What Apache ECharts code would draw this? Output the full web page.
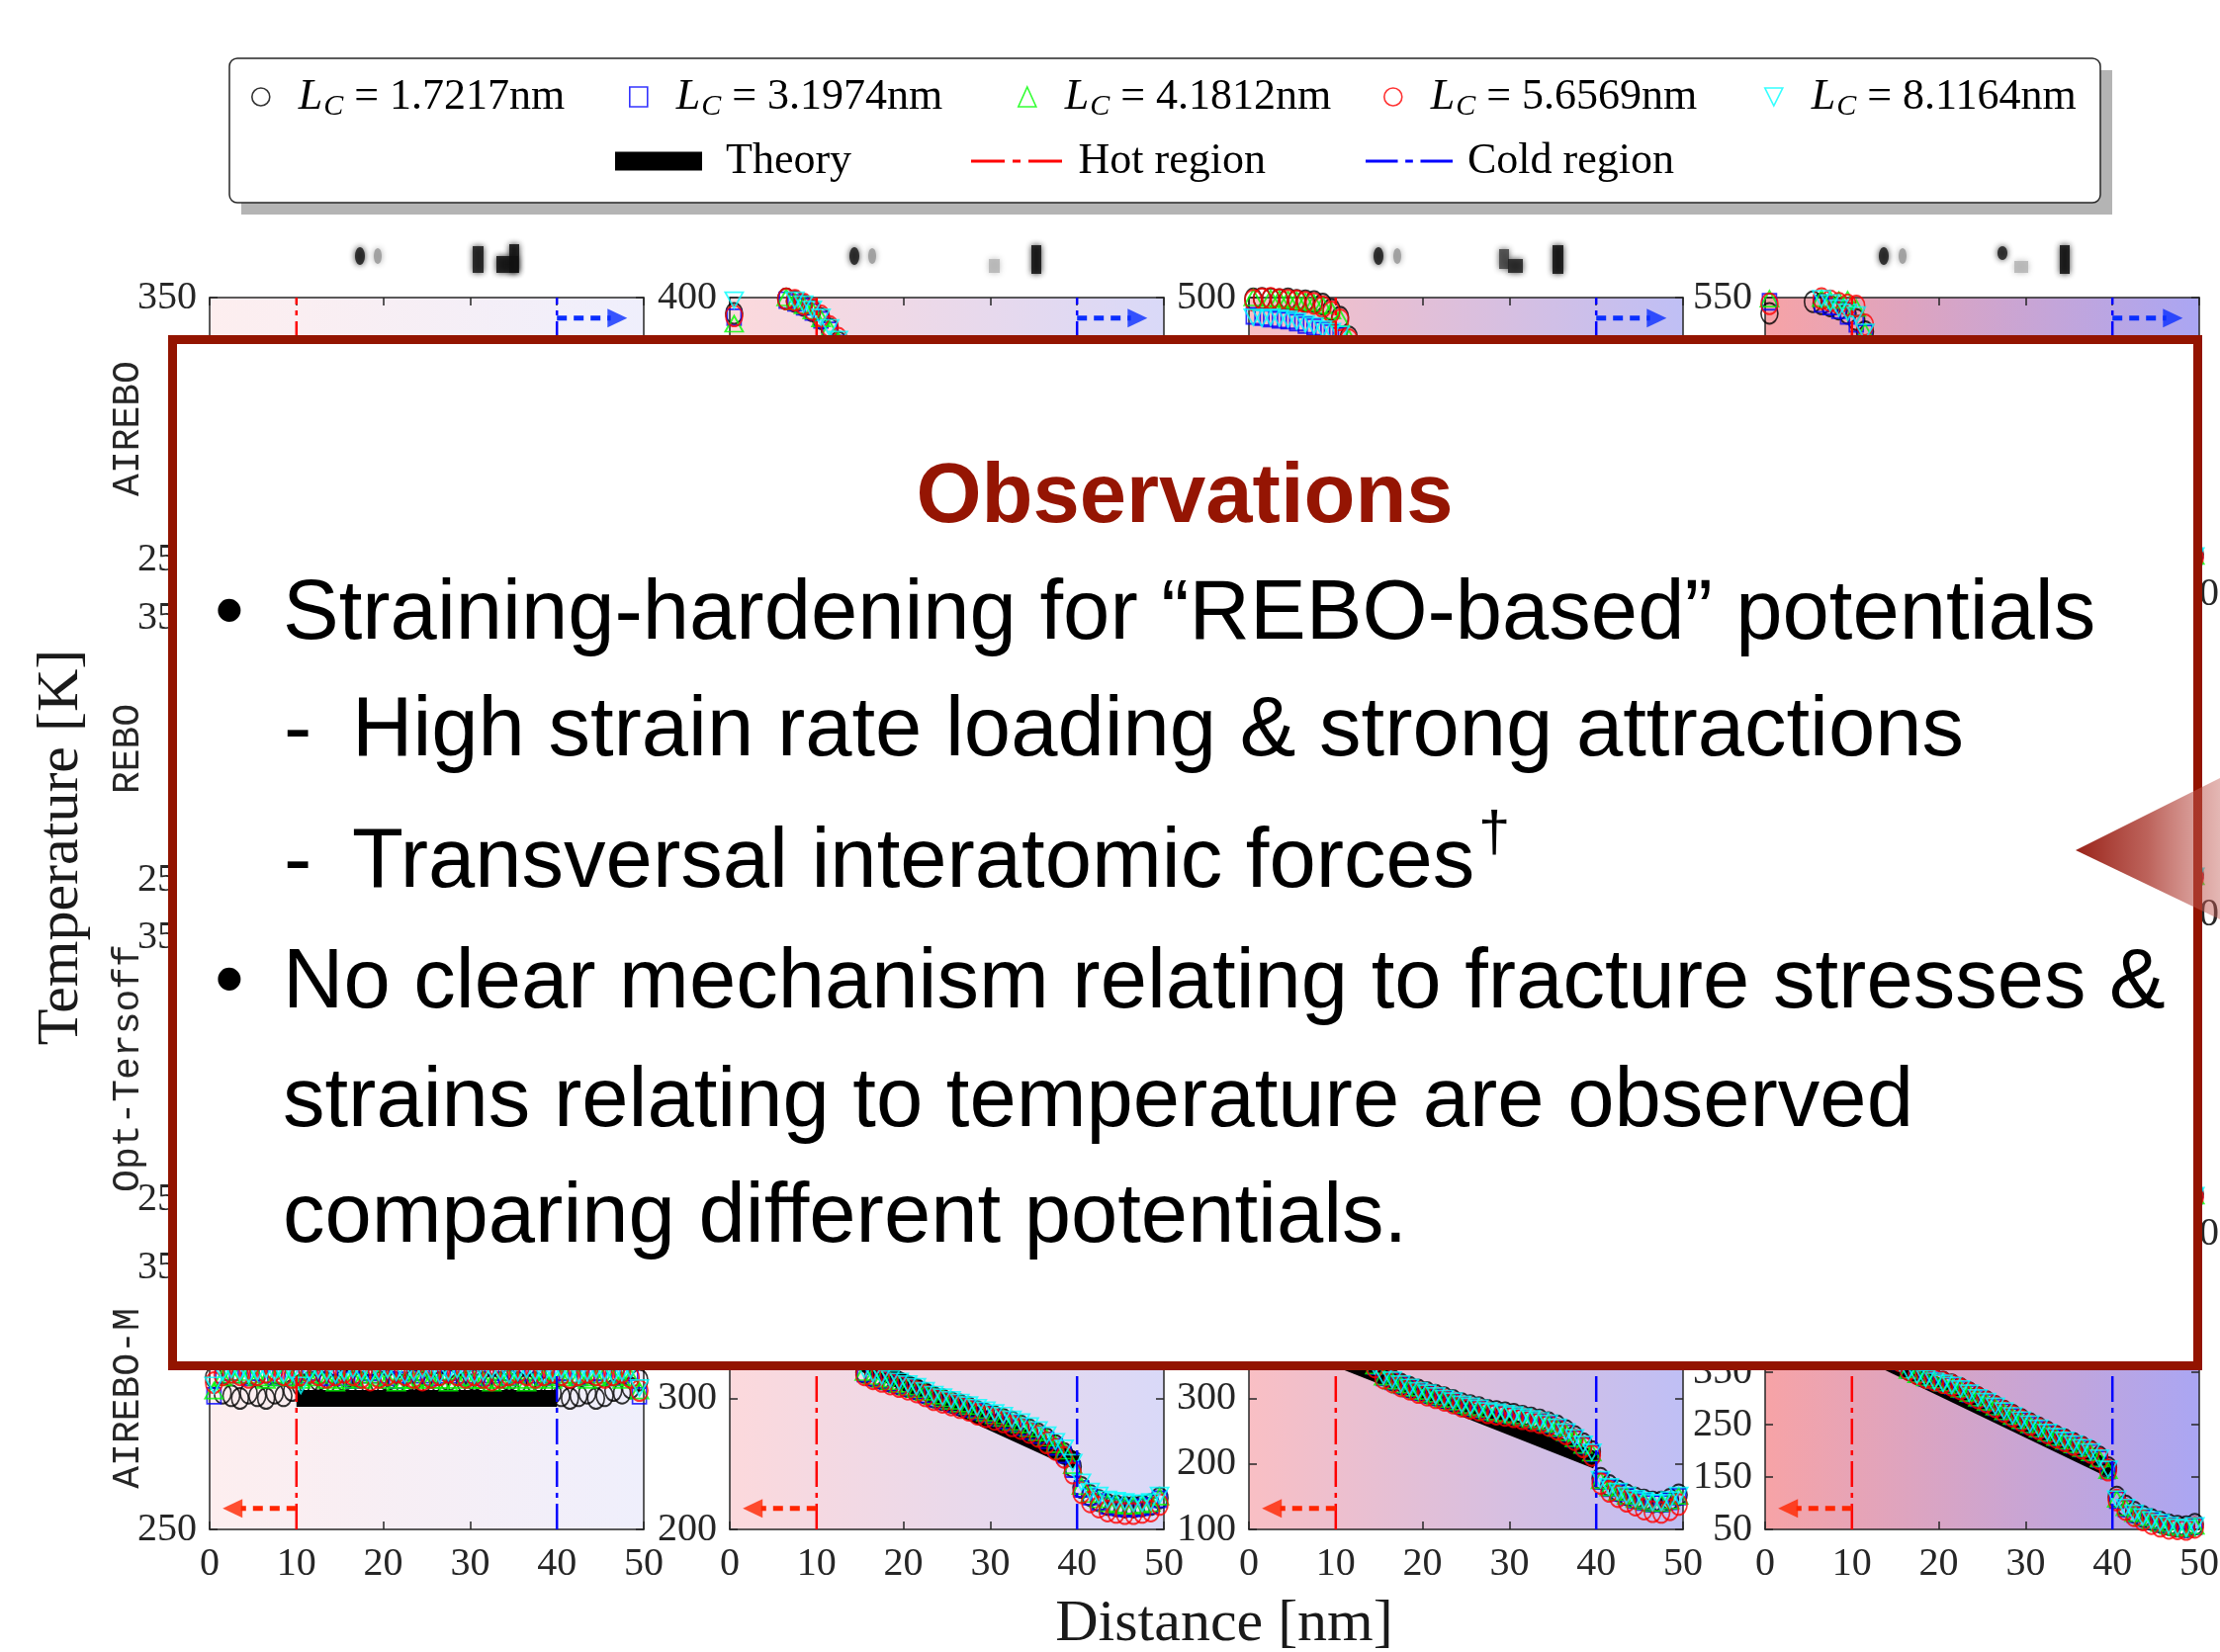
<!DOCTYPE html>
<html>
<head>
<meta charset="utf-8">
<script src="https://cdn.jsdelivr.net/npm/echarts@6/dist/echarts.min.js"></script>
<style>
  html, body { margin: 0; padding: 0; background: #ffffff; }
  #chart { width: 2245px; height: 1671px; }
</style>
</head>
<body>
<div id="chart"></div>
<script>
// ---- data -------------------------------------------------------------
const distanceNm = [0.5,1.5,2.5,3.5,4.5,5.5,6.5,7.5,8.5,9.5,10.5,11.5,12.5,13.5,14.5,15.5,16.5,17.5,18.5,19.5,
  20.5,21.5,22.5,23.5,24.5,25.5,26.5,27.5,28.5,29.5,30.5,31.5,32.5,33.5,34.5,35.5,36.5,37.5,38.5,39.5,
  40.5,41.5,42.5,43.5,44.5,45.5,46.5,47.5,48.5,49.5];

const potentials = ['AIREBO', 'REBO', 'Opt-Tersoff', 'AIREBO-M'];
const cellLengths = ['1.7217', '3.1974', '4.1812', '5.6569', '8.1164'];

const yMinK = [250, 200, 100, 50];
const yMaxK = [350, 400, 500, 550];
const yStepK = 100;
const xTickStepNm = 10;
const hotEdgeNm = 10;
const coldEdgeNm = 40;

// Fourier-law reference line between the thermostat edges
const theoryHotK = [300, 343, 362, 402];
const theoryColdK = [300, 252, 205, 163];

// Case A: equilibrium at 300 K
const tempA1 = [308,302,301,300,302,301,300,302,301,303,305,306,307,306,305,307,308,306,305,306,307,306,305,307,306,305,306,307,305,306,307,306,305,306,307,306,305,306,304,302,301,300,301,302,300,301,303,302,304,307];
const tempA2 = [301,309,310,309,308,310,309,308,309,308,309,310,309,308,309,308,307,309,310,309,308,307,309,310,309,308,309,310,309,308,309,308,309,310,308,309,310,309,308,309,310,309,308,309,310,309,308,309,310,301];
const tempA3 = [303,308,309,310,309,308,307,308,309,308,307,308,309,307,306,307,308,307,309,308,307,306,307,307,308,307,307,306,307,308,307,307,306,307,308,307,306,307,308,307,308,309,308,307,308,309,308,307,308,303];
const tempA4 = [306,309,310,309,308,309,310,311,309,308,309,310,309,308,309,310,309,308,307,308,309,310,309,308,307,308,309,310,309,308,309,308,307,308,309,310,309,308,309,310,309,308,309,310,309,308,309,310,308,303];
const tempA5 = [305,310,311,310,309,310,311,310,309,310,305,310,311,310,309,310,311,310,309,310,311,310,309,310,311,310,309,310,311,310,309,310,311,310,309,310,311,310,309,310,311,310,309,310,311,310,309,310,311,304];

// Case B
const tempB1 = [388,404,408,410,409,406,399,397,394,390,384,376,366,353,338,320,317,315,313,311,309,307,304,301,299,297,295,293,290,288,286,284,282,279,276,273,269,264,258,248,232,226,222,219,218,217,217,218,219,224];
const tempB2 = [385,403,407,409,408,405,398,396,393,389,383,375,365,352,337,319,316,314,312,310,308,306,303,300,298,296,294,292,290,288,285,283,281,278,275,272,268,263,257,246,231,225,221,218,217,216,216,217,218,223];
const tempB3 = [380,404,408,410,409,406,400,397,394,390,384,376,367,354,339,320,317,315,313,311,309,307,305,302,300,298,296,294,291,289,287,285,282,280,277,274,270,265,260,249,233,227,223,220,219,218,218,219,220,225];
const tempB4 = [386,403,407,409,408,405,399,398,395,391,386,378,369,355,340,318,315,313,311,309,307,305,302,299,297,295,293,291,288,286,284,282,279,277,274,271,266,261,255,243,228,221,217,214,213,212,212,213,214,219];
const tempB5 = [398,405,409,411,410,407,401,398,395,391,385,377,368,356,342,322,319,317,315,313,311,309,306,303,301,299,297,295,293,291,289,287,284,282,279,276,272,267,262,251,236,229,226,223,222,221,220,220,221,226];

// Case C
const tempC1 = [498,499,498,497,498,496,495,494,490,482,470,440,410,380,352,336,328,322,317,313,309,305,301,297,292,289,286,282,280,278,276,273,270,267,263,258,251,242,231,219,178,167,159,153,148,145,142,142,146,153];
const tempC2 = [472,470,468,466,465,462,458,455,450,446,442,418,393,368,349,332,326,320,315,310,306,302,298,294,289,286,283,279,277,275,273,270,267,264,260,254,247,238,228,216,174,163,156,150,145,142,139,139,143,150];
const tempC3 = [500,502,499,498,497,496,494,492,488,480,468,438,408,378,350,333,327,321,316,311,307,303,299,295,290,287,284,280,278,276,274,271,268,265,261,255,248,239,229,217,175,164,157,151,146,143,140,140,144,151];
const tempC4 = [496,498,499,497,496,495,493,491,486,478,466,436,406,376,348,331,325,319,314,309,305,301,297,293,288,285,282,278,276,274,272,269,266,263,259,253,246,237,226,213,170,158,150,143,137,131,127,126,130,138];
const tempC5 = [470,468,470,469,467,464,460,457,452,448,444,420,395,370,350,334,328,322,317,312,308,304,300,296,291,288,285,281,279,277,275,272,269,266,262,256,249,240,230,218,176,165,158,152,147,144,141,141,145,152];

// Case D
const tempD1 = [520,556,560,562,560,542,538,534,528,520,508,485,450,420,395,372,356,348,341,336,331,326,319,311,302,294,285,276,268,260,252,244,236,228,221,214,207,199,188,168,112,95,83,75,69,64,59,56,55,60];
const tempD2 = [542,558,562,563,561,552,538,533,526,515,500,482,448,418,393,370,354,346,339,334,329,324,317,309,300,292,283,274,265,257,249,241,233,225,218,211,204,196,184,162,106,90,79,72,66,61,56,53,51,56];
const tempD3 = [548,557,561,563,560,554,549,546,545,546,530,484,449,419,394,371,354,346,340,335,330,325,318,310,301,293,284,275,266,258,250,242,234,226,219,212,205,197,185,163,108,92,81,73,67,62,57,54,52,57];
const tempD4 = [538,556,560,562,559,553,548,544,539,536,534,498,452,421,396,372,355,347,340,335,330,325,318,310,301,293,284,275,266,258,250,242,234,226,219,212,205,197,185,163,106,88,76,68,61,56,52,51,50,54];
const tempD5 = [560,557,561,563,560,553,548,540,530,522,517,484,446,416,392,368,352,344,338,333,329,325,318,310,301,294,285,276,267,259,251,243,235,227,220,213,206,198,186,165,108,92,81,74,68,63,58,54,52,57];

const profiles = [
  [tempA1, tempA2, tempA3, tempA4, tempA5],
  [tempB1, tempB2, tempB3, tempB4, tempB5],
  [tempC1, tempC2, tempC3, tempC4, tempC5],
  [tempD1, tempD2, tempD3, tempD4, tempD5]
];

// ---- layout & style ---------------------------------------------------
const colLeft = [212, 738, 1263, 1785];
const plotW = 439;
const rowTop = [301, 625, 948, 1282];
const plotH = 265;
const bgLeft = ['#fdeeef', '#fcd9dc', '#f9bfc4', '#f7a3a6'];
const bgRight = ['#efeffc', '#d9d9f8', '#bfbff5', '#aaa6f3'];
const markerColors = ['#000000', '#0000ff', '#00ff00', '#ff0000', '#00ffff'];
const triDown = 'path://M0,0L20,0L10,20Z';
const markerSymbols = ['circle', 'rect', 'triangle', 'circle', triDown];
const markerSizes = [[17, 21], [14, 16], [18, 16], [17, 21], [18, 16]];
const axisColor = '#262626';
const serif = 'Liberation Serif';
const hotColor = '#ff0000', coldColor = '#0000ff';
const hotArrowColor = '#ff2600', coldArrowColor = '#0a2eff';
const lcName = v => 'L_C = ' + v + 'nm';

const grid = [], xAxis = [], yAxis = [], series = [];

for (let r = 0; r < 4; r++) {
  for (let c = 0; c < 4; c++) {
    const g = r * 4 + c;
    const lo = yMinK[c], hi = yMaxK[c];
    grid.push({
      left: colLeft[c], top: rowTop[r], width: plotW, height: plotH,
      show: true, borderWidth: 0, outerBoundsMode: 'none',
      backgroundColor: {
        type: 'linear', x: 0, y: 0, x2: 1, y2: 0,
        colorStops: [{ offset: 0, color: bgLeft[c] }, { offset: 1, color: bgRight[c] }]
      }
    });
    const lineSt = { color: axisColor, width: 1.5 };
    const baseX = {
      gridIndex: g, type: 'value', min: 0, max: 50, interval: xTickStepNm,
      axisLine: { show: true, onZero: false, lineStyle: lineSt },
      axisTick: { show: true, inside: true, length: 8, lineStyle: lineSt },
      splitLine: { show: false }
    };
    xAxis.push(Object.assign({}, baseX, {
      position: 'bottom',
      axisLabel: { show: true, margin: 15, fontFamily: serif, fontSize: 40, color: axisColor }
    }));
    xAxis.push(Object.assign({}, baseX, { position: 'top', axisLabel: { show: false } }));
    const baseY = {
      gridIndex: g, type: 'value', min: lo, max: hi, interval: yStepK,
      axisLine: { show: true, onZero: false, lineStyle: lineSt },
      axisTick: { show: true, inside: true, length: 8, lineStyle: lineSt },
      splitLine: { show: false }
    };
    yAxis.push(Object.assign({}, baseY, {
      position: 'left',
      axisLabel: { show: true, margin: 13, fontFamily: serif, fontSize: 40, color: axisColor }
    }));
    yAxis.push(Object.assign({}, baseY, { position: 'right', axisLabel: { show: false } }));

    const xi = 2 * g, yi = 2 * g;
    // theory line
    series.push({
      type: 'line', name: 'Theory', xAxisIndex: xi, yAxisIndex: yi, z: 2,
      data: [[hotEdgeNm, theoryHotK[c]], [coldEdgeNm, theoryColdK[c]]],
      showSymbol: false, symbol: 'none', silent: true,
      lineStyle: { color: '#000', width: 17, cap: 'butt' }
    });
    // measured profiles
    for (let k = 0; k < 5; k++) {
      const vals = profiles[c][k];
      series.push({
        type: 'scatter', name: lcName(cellLengths[k]), xAxisIndex: xi, yAxisIndex: yi, z: 3,
        data: distanceNm.map((x, i) => [x, vals[i]]),
        symbol: markerSymbols[k], symbolSize: markerSizes[k], clip: true, silent: true,
        itemStyle: { color: 'rgba(0,0,0,0)', borderColor: markerColors[k], borderWidth: 1.8 }
      });
    }
    // thermostat boundaries
    series.push({
      type: 'line', name: 'Hot region', xAxisIndex: xi, yAxisIndex: yi, z: 4,
      data: [[hotEdgeNm, lo], [hotEdgeNm, hi]], symbol: 'none', silent: true,
      lineStyle: { color: hotColor, width: 2.5, type: [26, 6, 5, 6] }
    });
    series.push({
      type: 'line', name: 'Cold region', xAxisIndex: xi, yAxisIndex: yi, z: 4,
      data: [[coldEdgeNm, lo], [coldEdgeNm, hi]], symbol: 'none', silent: true,
      lineStyle: { color: coldColor, width: 2.5, type: [26, 6, 5, 6] }
    });
    // heat-flow arrows
    const yHot = lo + 0.08 * (hi - lo);
    const yCold = hi - 0.078 * (hi - lo);
    series.push({
      type: 'line', xAxisIndex: xi, yAxisIndex: yi, z: 4, symbol: 'none', silent: true,
      data: [[hotEdgeNm, yHot], [3.6, yHot]],
      lineStyle: { color: hotArrowColor, width: 5, type: [10, 7], cap: 'butt' }
    });
    series.push({
      type: 'scatter', xAxisIndex: xi, yAxisIndex: yi, z: 4, silent: true, clip: false,
      data: [[2.64, yHot]], symbol: 'triangle', symbolRotate: 90, symbolSize: [19, 20],
      itemStyle: { color: hotArrowColor }
    });
    series.push({
      type: 'line', xAxisIndex: xi, yAxisIndex: yi, z: 4, symbol: 'none', silent: true,
      data: [[coldEdgeNm, yCold], [46.2, yCold]],
      lineStyle: { color: coldArrowColor, width: 5, type: [10, 7], cap: 'butt' }
    });
    series.push({
      type: 'scatter', xAxisIndex: xi, yAxisIndex: yi, z: 4, silent: true, clip: false,
      data: [[46.96, yCold]], symbol: 'triangle', symbolRotate: -90, symbolSize: [19, 20],
      itemStyle: { color: coldArrowColor }
    });
  }
}

// ---- legend -----------------------------------------------------------
const richLegend = {
  i: { fontFamily: serif, fontStyle: 'italic', fontSize: 44, lineHeight: 50, color: '#000' },
  s: { fontFamily: serif, fontStyle: 'italic', fontSize: 30, lineHeight: 30, padding: [20, 0, 0, 1], color: '#000' },
  t: { fontFamily: serif, fontSize: 44, lineHeight: 50, color: '#000' }
};
const lcIconLeft = [254, 636, 1029, 1399, 1784];
const legend = [];
cellLengths.forEach((v, k) => {
  legend.push({
    left: lcIconLeft[k], top: 73, padding: 0, itemWidth: 18, itemHeight: 20, itemGap: 0,
    selectedMode: false, z: 5,
    data: [{
      name: lcName(v), icon: markerSymbols[k],
      itemStyle: { color: 'rgba(0,0,0,0)', borderColor: markerColors[k], borderWidth: 1.6 }
    }],
    formatter: () => '{i|L}{s|C}{t| = ' + v + 'nm}',
    textStyle: { padding: [0, 0, 0, 24], rich: richLegend }
  });
});
const dashDotIcon = 'path://M0,0h34v3h-34zM42,0h8v3h-8zM58,0h34v3h-34z';
const plainText = { fontFamily: serif, fontSize: 44, lineHeight: 50, color: '#000' };
legend.push({
  left: 622, top: 138, padding: 0, itemWidth: 88, itemHeight: 19, selectedMode: false, z: 5,
  data: [{ name: 'Theory', icon: 'rect', itemStyle: { color: '#000', borderWidth: 0 } }],
  textStyle: Object.assign({ padding: [0, 0, 0, 19] }, plainText)
});
legend.push({
  left: 982, top: 138, padding: 0, itemWidth: 95, itemHeight: 3, selectedMode: false, z: 5,
  data: [{ name: 'Hot region', icon: dashDotIcon, itemStyle: { color: hotColor, borderWidth: 0 } }],
  textStyle: Object.assign({ padding: [0, 0, 0, 10] }, plainText)
});
legend.push({
  left: 1381, top: 138, padding: 0, itemWidth: 88, itemHeight: 3, selectedMode: false, z: 5,
  data: [{ name: 'Cold region', icon: dashDotIcon, itemStyle: { color: coldColor, borderWidth: 0 } }],
  textStyle: Object.assign({ padding: [0, 0, 0, 10] }, plainText)
});

// ---- decorations, axis titles and the observation panel -----------------
const graphics = [];
graphics.push({ type: 'rect', z: 0, silent: true, shape: { x: 244, y: 71, width: 1892, height: 146 }, style: { fill: '#b4b4b4' } });
graphics.push({ type: 'rect', z: 1, silent: true, shape: { x: 232, y: 59, width: 1892, height: 146, r: 8 }, style: { fill: '#ffffff', stroke: axisColor, lineWidth: 1.5 } });

// low-resolution panel captions
const captionMarks = [
  [['e', 152, 259, 5, 9, '#1e1e1e'], ['e', 170, 259, 4, 8, '#9a9a9a'], ['r', 266, 249, 11, 27, '#1a1a1a'], ['r', 290, 259, 22, 17, '#111'], ['r', 303, 247, 10, 29, '#111']],
  [['e', 126, 259, 5, 9, '#1e1e1e'], ['e', 144, 259, 4, 8, '#9a9a9a'], ['r', 262, 262, 11, 14, '#b5b5b5'], ['r', 305, 248, 10, 29, '#111']],
  [['e', 131, 259, 5, 9, '#1e1e1e'], ['e', 150, 259, 4, 8, '#9a9a9a'], ['r', 253, 252, 10, 20, '#444'], ['r', 262, 262, 15, 14, '#222'], ['r', 307, 248, 11, 29, '#111']],
  [['e', 120, 259, 5, 9, '#1e1e1e'], ['e', 139, 259, 4, 8, '#9a9a9a'], ['e', 240, 256, 5, 7, '#222'], ['r', 252, 264, 14, 12, '#b5b5b5'], ['r', 298, 248, 10, 29, '#111']]
];
captionMarks.forEach((marks, c) => {
  marks.forEach(m => {
    const st = { fill: m[5], shadowBlur: 6, shadowColor: m[5], opacity: 0.85 };
    if (m[0] === 'e') {
      graphics.push({ type: 'ellipse', z: 1, silent: true, shape: { cx: colLeft[c] + m[1], cy: m[2], rx: m[3], ry: m[4] }, style: st });
    } else {
      graphics.push({ type: 'rect', z: 1, silent: true, shape: { x: colLeft[c] + m[1], y: m[2], width: m[3], height: m[4] }, style: st });
    }
  });
});

// potential names beside each row
potentials.forEach((p, r) => {
  graphics.push({
    type: 'text', z: 1, silent: true, x: 130, y: rowTop[r] + plotH / 2, rotation: Math.PI / 2,
    style: { text: p, fontFamily: 'Liberation Mono', fontSize: 38, fill: axisColor, align: 'center', verticalAlign: 'middle' }
  });
});

graphics.push({
  type: 'text', z: 1, silent: true, x: 62, y: 857, rotation: Math.PI / 2,
  style: { text: 'Temperature [K]', fontFamily: serif, fontSize: 60, fill: '#1a1a1a', align: 'center', verticalAlign: 'middle' }
});
graphics.push({
  type: 'text', z: 1, silent: true, x: 1238, y: 1643,
  style: { text: 'Distance [nm]', fontFamily: serif, fontSize: 60, fill: '#1a1a1a', align: 'center', verticalAlign: 'middle' }
});

// observation panel
graphics.push({
  type: 'rect', z: 100, silent: true,
  shape: { x: 174.5, y: 343.5, width: 2048, height: 1038 },
  style: { fill: '#ffffff', stroke: '#931400', lineWidth: 9 }
});
const sans = 'Liberation Sans';
const panelText = (t, x, y, size, extra) => graphics.push({
  type: 'text', z: 102, silent: true, x: x, y: y,
  style: Object.assign({ text: t, fontFamily: sans, fontSize: size, fill: '#000', align: 'left', verticalAlign: 'middle' }, extra || {})
});
panelText('Observations', 1198, 505, 85, { fontWeight: 'bold', fill: '#951503', align: 'center' });
panelText('\u2022', 217, 623, 85);
panelText('Straining-hardening for \u201CREBO-based\u201D potentials', 286, 623, 85);
panelText('-', 287, 741, 85);
panelText('High strain rate loading & strong attractions', 356, 741, 85);
panelText('-', 287, 874, 85);
panelText('Transversal interatomic forces', 356, 874, 85);
panelText('\u2020', 1495, 845, 58);
panelText('\u2022', 217, 996, 85);
panelText('No clear mechanism relating to fracture stresses &', 286, 996, 85);
panelText('strains relating to temperature are observed', 286, 1116, 85);
panelText('comparing different potentials.', 286, 1233, 85);

// pointer wedge at the right edge
graphics.push({
  type: 'polygon', z: 101, silent: true,
  shape: { points: [[2099, 860], [2245, 787], [2245, 930]] },
  style: {
    fill: {
      type: 'linear', x: 0, y: 0, x2: 1, y2: 0,
      colorStops: [
        { offset: 0, color: 'rgba(150,28,18,0.97)' },
        { offset: 0.5, color: 'rgba(170,55,45,0.78)' },
        { offset: 1, color: 'rgba(195,95,88,0.45)' }
      ]
    }
  }
});

const chart = echarts.init(document.getElementById('chart'), null, { renderer: 'canvas', width: 2245, height: 1671 });
chart.setOption({
  animation: false,
  backgroundColor: '#ffffff',
  grid: grid,
  xAxis: xAxis,
  yAxis: yAxis,
  legend: legend,
  series: series,
  graphic: { elements: graphics }
});
</script>
</body>
</html>
